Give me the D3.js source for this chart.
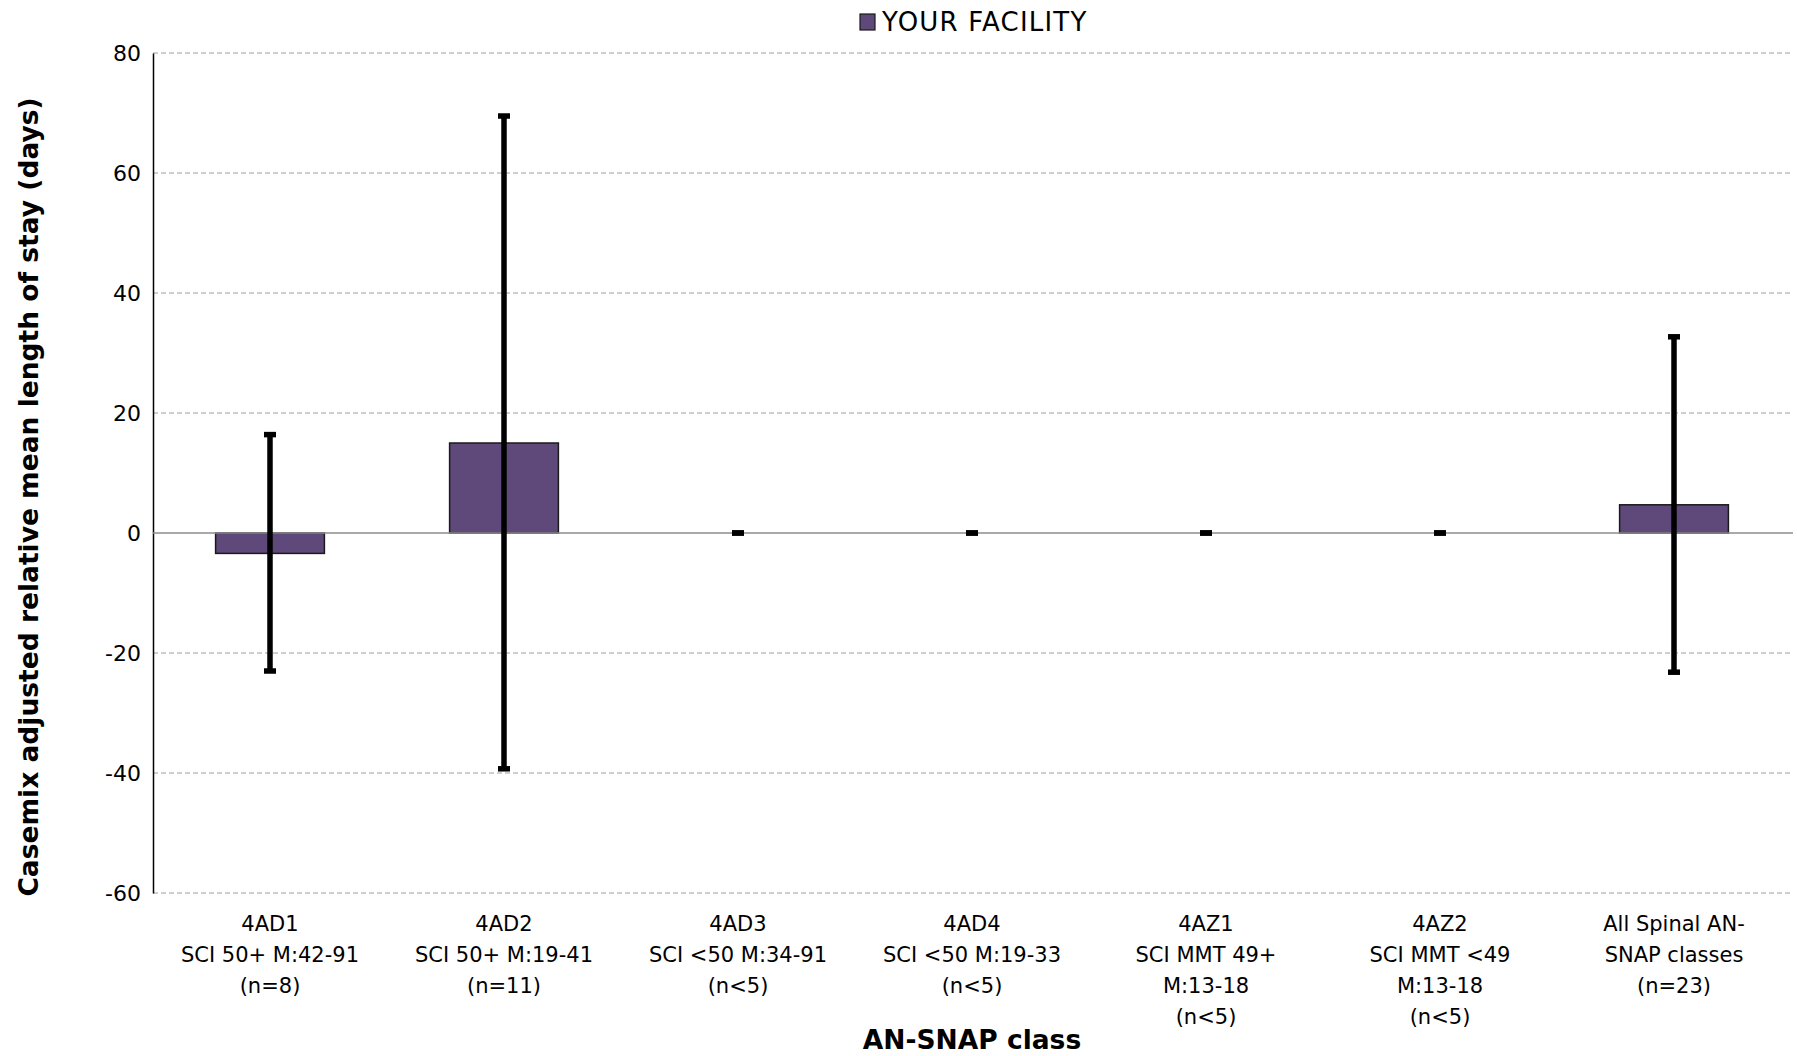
<!DOCTYPE html>
<html>
<head>
<meta charset="utf-8">
<script src="https://cdn.jsdelivr.net/npm/d3@7"></script>
<style>
  html, body { margin: 0; padding: 0; background: #fff; }
  svg { display: block; }
  text { font-family: "DejaVu Sans", sans-serif; fill: #000; }
</style>
</head>
<body>
<svg id="chart" width="1797" height="1056"></svg>
<script>
const codes = ["4AD1", "4AD2", "4AD3", "4AD4", "4AZ1", "4AZ2", "All Spinal AN-"];
const categoryLabels = [
  ["4AD1", "SCI 50+ M:42-91", "(n=8)"],
  ["4AD2", "SCI 50+ M:19-41", "(n=11)"],
  ["4AD3", "SCI <50 M:34-91", "(n<5)"],
  ["4AD4", "SCI <50 M:19-33", "(n<5)"],
  ["4AZ1", "SCI MMT 49+", "M:13-18", "(n<5)"],
  ["4AZ2", "SCI MMT <49", "M:13-18", "(n<5)"],
  ["All Spinal AN-", "SNAP classes", "(n=23)"]
];
const values = [-3.4, 15.0, 0, 0, 0, 0, 4.7];
const errLow = [-23.0, -39.3, 0, 0, 0, 0, -23.2];
const errHigh = [16.4, 69.5, 0, 0, 0, 0, 32.7];
const yTicks = [-60, -40, -20, 0, 20, 40, 60, 80];
const seriesName = "YOUR FACILITY";
const xTitle = "AN-SNAP class";
const yTitle = "Casemix adjusted relative mean length of stay (days)";

(function () {
const svg = d3.select("#chart");
const mLeft = 153, mRight = 1791, mTop = 53, mBottom = 893;
const idx = d3.range(values.length);

const x = d3.scaleBand().domain(idx).range([mLeft, mRight])
  .paddingInner(0.535).paddingOuter(0.2675);
const y = d3.scaleLinear().domain([-60, 80]).range([mBottom, mTop]);

// gridlines
svg.append("g").selectAll("line").data(yTicks.filter(t => t !== 0)).join("line")
  .attr("x1", mLeft).attr("x2", mRight + 2)
  .attr("y1", d => y(d)).attr("y2", d => y(d))
  .attr("stroke", "#c0c0c0").attr("stroke-width", 1.3)
  .attr("stroke-dasharray", "5,3");

// y axis
const yAxis = d3.axisLeft(y).tickValues(yTicks).tickSize(0).tickPadding(12)
  .tickFormat(d => String(d));
const ga = svg.append("g").attr("transform", `translate(${mLeft},0)`).call(yAxis);
ga.select(".domain").attr("stroke", "#000").attr("stroke-width", 1.5);
ga.selectAll("text").attr("font-size", 22).attr("font-family", "DejaVu Sans, sans-serif")
  .attr("fill", "#000");

// bars
svg.append("g").selectAll("rect").data(idx.filter(i => values[i] !== 0)).join("rect")
  .attr("x", i => x(i))
  .attr("width", x.bandwidth())
  .attr("y", i => y(Math.max(0, values[i])))
  .attr("height", i => Math.abs(y(values[i]) - y(0)))
  .attr("fill", "#5f497a")
  .attr("stroke", "#1a1a1a").attr("stroke-width", 1.5);

// zero line
svg.append("line")
  .attr("x1", mLeft).attr("x2", mRight + 2)
  .attr("y1", y(0)).attr("y2", y(0))
  .attr("stroke", "#8c8c8c").attr("stroke-width", 1.5);

// error bars
const eg = svg.append("g");
idx.forEach(i => {
  const cx = x(i) + x.bandwidth() / 2;
  if (errHigh[i] !== errLow[i]) {
    eg.append("line").attr("x1", cx).attr("x2", cx)
      .attr("y1", y(errHigh[i])).attr("y2", y(errLow[i]))
      .attr("stroke", "#000").attr("stroke-width", 5.5);
  }
  [errHigh[i], errLow[i]].forEach(v => {
    eg.append("line").attr("x1", cx - 6).attr("x2", cx + 6)
      .attr("y1", y(v)).attr("y2", y(v))
      .attr("stroke", "#000").attr("stroke-width", 5.5);
  });
});

// category labels
const lg = svg.append("g");
idx.forEach(i => {
  const cx = x(i) + x.bandwidth() / 2;
  const t = lg.append("text").attr("text-anchor", "middle")
    .attr("font-size", 21);
  categoryLabels[i].forEach((line, k) => {
    t.append("tspan").attr("x", cx).attr("y", 931 + k * 31).text(line);
  });
});

// axis titles
svg.append("text").attr("x", (mLeft + mRight) / 2).attr("y", 1049)
  .attr("text-anchor", "middle").attr("font-size", 26.5).attr("font-weight", "bold")
  .text(xTitle);
svg.append("text")
  .attr("transform", `translate(38,497) rotate(-90)`)
  .attr("text-anchor", "middle").attr("font-size", 26.5).attr("font-weight", "bold")
  .text(yTitle);

// legend
svg.append("rect").attr("x", 860).attr("y", 14).attr("width", 15).attr("height", 16)
  .attr("fill", "#5f497a").attr("stroke", "#1a1a1a").attr("stroke-width", 1.2);
svg.append("text").attr("x", 882).attr("y", 31).attr("font-size", 26)
  .attr("letter-spacing", 1.2)
  .text(seriesName);
})();
</script>
</body>
</html>
